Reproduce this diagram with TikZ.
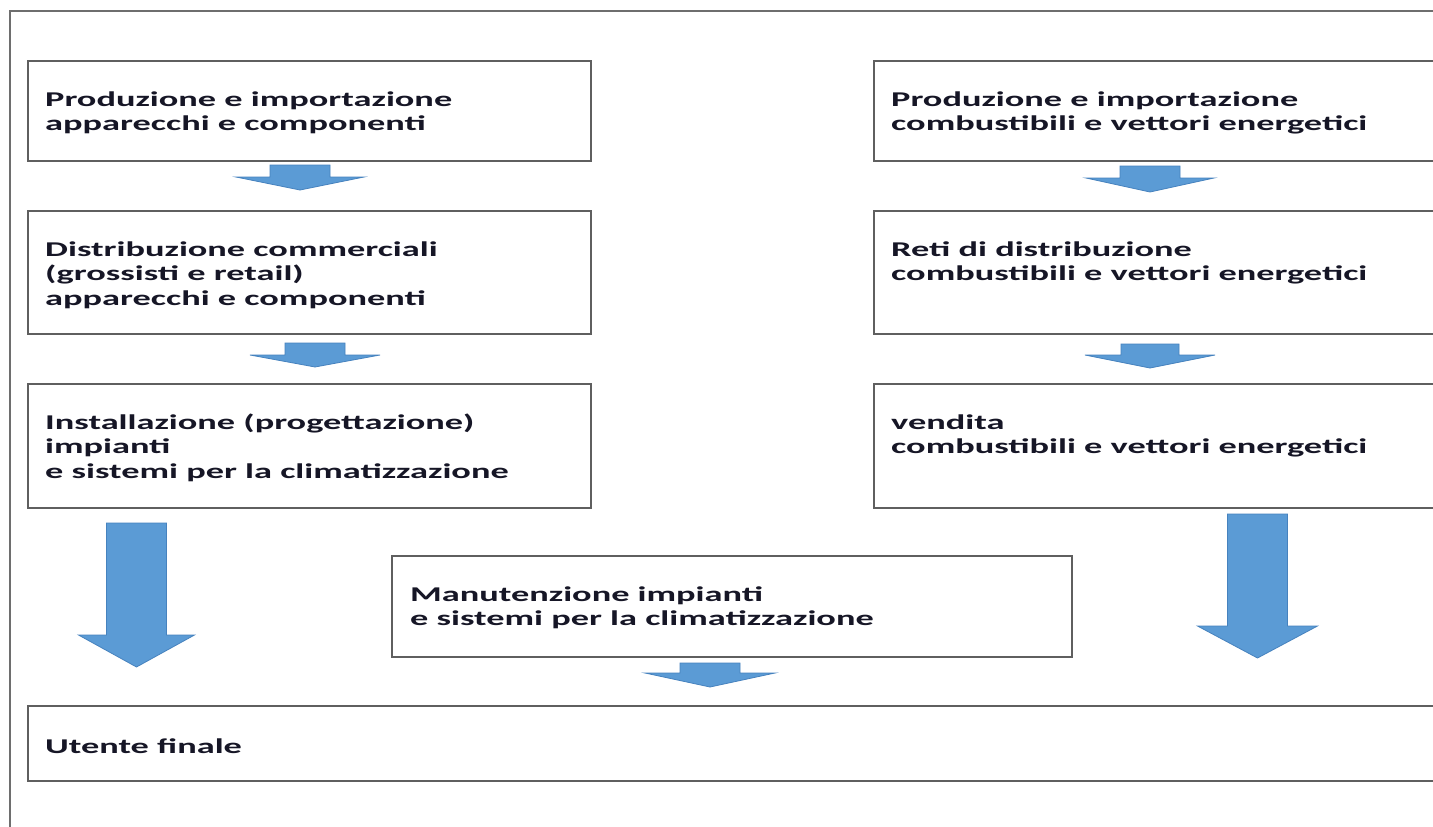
\documentclass[tikz,border=0pt]{standalone}
\usepackage{fontspec}
\newfontfamily\lblfont{Carlito}[FakeStretch=1.73]
\definecolor{boxgray}{RGB}{95,95,95}
\definecolor{framegray}{RGB}{110,110,110}
\definecolor{arrowblue}{RGB}{91,155,213}
\definecolor{arrowedge}{RGB}{70,130,190}
\definecolor{textcol}{RGB}{22,22,38}
\newcommand\fl{\rule{0pt}{18pt}}
\newcommand\blockarrow[6]{%
  \draw[barrow] (#1-#5,#2) -- (#1+#5,#2) -- (#1+#5,#3) -- (#1+#6,#3)
    -- (#1,#4) -- (#1-#6,#3) -- (#1-#5,#3) -- cycle;}
\tikzset{
  stepbox/.style={draw=boxgray, line width=1.8pt, fill=white, anchor=north west, inner sep=0pt},
  lbl/.style={anchor=north west, align=left, inner sep=0pt, text=textcol,
    font=\lblfont\bfseries\fontsize{21}{24.5}\selectfont},
  barrow/.style={fill=arrowblue, draw=arrowedge, line width=0.8pt, line join=miter},
}
\begin{document}
\begin{tikzpicture}[x=1pt, y=-1pt]
\useasboundingbox (0,0) rectangle (1433,827);
\clip (0,0) rectangle (1433,827);
\fill[white] (0,0) rectangle (1433,827);
% outer frame
\draw[framegray, line width=1.6pt] (10,11) rectangle (1460,860);
% left column
\node[stepbox, minimum width=563pt, minimum height=100pt] (b1) at (27,60) {};
\node[stepbox, minimum width=563pt, minimum height=123pt] (b2) at (27,210) {};
\node[stepbox, minimum width=563pt, minimum height=124pt] (b3) at (27,383) {};
% right column
\node[stepbox, minimum width=600pt, minimum height=100pt] (r1) at (873,60) {};
\node[stepbox, minimum width=600pt, minimum height=123pt] (r2) at (873,210) {};
\node[stepbox, minimum width=600pt, minimum height=124pt] (r3) at (873,383) {};
% maintenance and end user
\node[stepbox, minimum width=680pt, minimum height=101pt] (m) at (391,555) {};
\node[stepbox, minimum width=1450pt, minimum height=75pt] (u) at (27,705) {};
% texts
\node[lbl] (tb1) at (45,88) {\fl Produzione e importazione\\apparecchi e componenti};
\node[lbl] (tb2) at (45,238) {\fl Distribuzione commerciali\\(grossisti e retail)\\apparecchi e componenti};
\node[lbl] (tb3) at (45,411) {\fl Installazione (progettazione)\\impianti\\e sistemi per la climatizzazione};
\node[lbl] (tr1) at (891,88) {\fl Produzione e importazione\\combustibili e vettori energetici};
\node[lbl] (tr2) at (891,238) {\fl Reti di distribuzione\\combustibili e vettori energetici};
\node[lbl] (tr3) at (891,411) {\fl vendita\\combustibili e vettori energetici};
\node[lbl] (tm) at (410,583) {\fl Manutenzione impianti\\e sistemi per la climatizzazione};
\node[lbl] (tu) at (45,735) {\fl Utente finale};
% block arrows
\blockarrow{300}{165}{177}{190}{30}{64}
\blockarrow{315}{343}{355}{367}{30}{65}
\blockarrow{1150}{166}{178}{192}{30}{64}
\blockarrow{1150}{344}{355}{368}{29}{65}
\blockarrow{136.5}{523}{635}{667}{30}{58}
\blockarrow{1257.5}{514}{626}{658}{30}{60}
\blockarrow{710}{663}{673}{687}{30}{65}
\end{tikzpicture}
\end{document}
